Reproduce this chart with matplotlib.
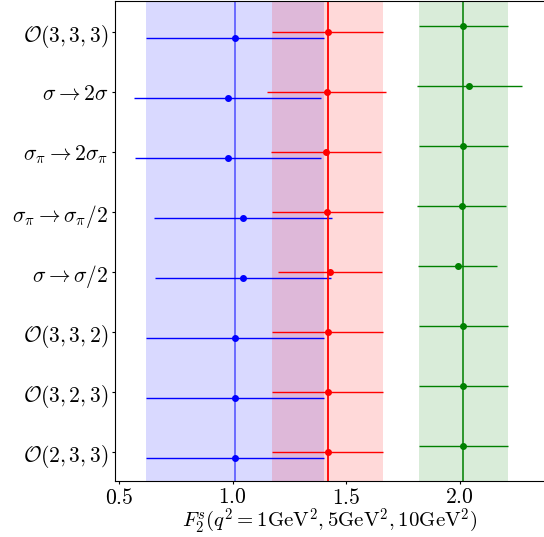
import matplotlib
matplotlib.use("Agg")
import matplotlib.pyplot as plt
import numpy as np

plt.rcParams["font.family"] = "serif"
plt.rcParams["font.serif"] = ["cmr10"]
plt.rcParams["mathtext.fontset"] = "cm"
plt.rcParams["axes.formatter.use_mathtext"] = True

# rows listed from top to bottom
labels = [
    r"$\mathcal{O}(3,3,3)$",
    r"$\sigma\rightarrow 2\sigma$",
    r"$\sigma_\pi\rightarrow 2\sigma_\pi$",
    r"$\sigma_\pi\rightarrow \sigma_\pi/2$",
    r"$\sigma\rightarrow \sigma/2$",
    r"$\mathcal{O}(3,3,2)$",
    r"$\mathcal{O}(3,2,3)$",
    r"$\mathcal{O}(2,3,3)$",
]

# q^2 = 1 GeV^2
f2_q1 = [1.011, 0.978, 0.978, 1.044, 1.047, 1.011, 1.011, 1.011]
err_q1 = [0.392, 0.412, 0.409, 0.393, 0.388, 0.392, 0.392, 0.392]
# q^2 = 5 GeV^2
f2_q5 = [1.418, 1.414, 1.410, 1.417, 1.428, 1.418, 1.418, 1.418]
err_q5 = [0.245, 0.262, 0.243, 0.245, 0.228, 0.245, 0.245, 0.245]
# q^2 = 10 GeV^2
f2_q10 = [2.016, 2.043, 2.016, 2.009, 1.991, 2.016, 2.016, 2.016]
err_q10 = [0.196, 0.232, 0.197, 0.196, 0.175, 0.196, 0.196, 0.196]

fig = plt.figure(figsize=(5.44, 5.37), dpi=100)
ax = fig.add_axes([115 / 544, 56 / 537, 429 / 544, 480 / 537])

ypos = np.arange(len(labels))[::-1]

series = [
    (f2_q1, err_q1, "blue", -0.1, 0.55),
    (f2_q5, err_q5, "red", 0.0, 1.0),
    (f2_q10, err_q10, "green", 0.1, 0.85),
]

for vals, errs, col, off, lalpha in series:
    # baseline O(3,3,3) sets the band
    ax.axvspan(vals[0] - errs[0], vals[0] + errs[0], color=col, alpha=0.15, lw=0)
    ax.axvline(vals[0], color=col, lw=1.3, alpha=lalpha)
    ax.errorbar(vals, ypos + off, xerr=errs, fmt="o", color=col,
                markersize=4, elinewidth=1, capsize=0)

ax.set_yticks(ypos)
ax.set_yticklabels(labels)
ax.set_xticks([0.5, 1.0, 1.5, 2.0])
ax.set_xlim(0.481, 2.372)
ax.set_ylim(-0.48, 7.52)
ax.spines["right"].set_visible(False)
ax.tick_params(labelsize=15.5, length=2.5, pad=2.5)
ax.set_xlabel(r"$F_2^s(q^2=1\mathrm{GeV}^2, 5\mathrm{GeV}^2, 10\mathrm{GeV}^2)$",
              fontsize=15, labelpad=-1)

fig.savefig("out.png", dpi=100)
